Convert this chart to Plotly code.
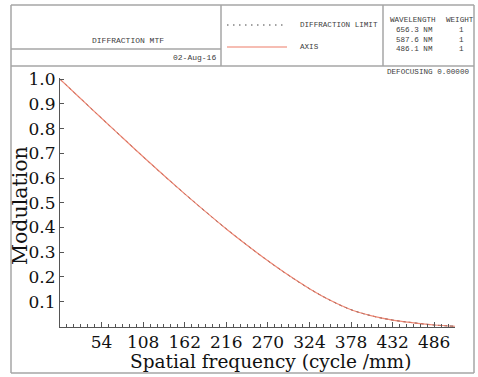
import plotly.graph_objects as go

# ---- data ----
freq = [0, 27, 54, 81, 108, 135, 162, 189, 216, 243, 270, 297, 324, 351,
        378, 405, 432, 459, 486, 513]
diffraction_limit = [1.000, 0.921, 0.842, 0.764, 0.686, 0.610, 0.536, 0.464,
                     0.394, 0.328, 0.265, 0.206, 0.152, 0.105, 0.067, 0.042,
                     0.025, 0.014, 0.005, 0.000]
axis_mtf = [1.000, 0.921, 0.842, 0.764, 0.686, 0.610, 0.536, 0.464,
            0.394, 0.328, 0.265, 0.206, 0.152, 0.105, 0.067, 0.042,
            0.025, 0.014, 0.005, 0.000]
x_ticks = [54, 108, 162, 216, 270, 324, 378, 432, 486]
y_ticks = [0.1, 0.2, 0.3, 0.4, 0.5, 0.6, 0.7, 0.8, 0.9, 1.0]
wavelengths = ["656.3 NM", "587.6 NM", "486.1 NM"]
weights = ["1", "1", "1"]

# ---- layout geometry (pixels) ----
W_IMG, H_IMG = 478, 377
L, R_PX, T, B = 60, 455, 78, 327
PW, PH = R_PX - L, B - T


def px(x):
    return (x - L) / PW


def py(y):
    return (B - y) / PH


RED = "#ee7d68"
FRAME = "#a6a6a6"
TXT = "#404040"
MONO = "Liberation Mono, Courier New, monospace"
SERIF = "DejaVu Serif, serif"

fig = go.Figure()
fig.add_trace(go.Scatter(x=freq, y=diffraction_limit, mode="lines",
                         line=dict(color="#222222", width=1, dash="dot", shape="spline"),
                         hoverinfo="skip", showlegend=False))
fig.add_trace(go.Scatter(x=freq, y=axis_mtf, mode="lines",
                         line=dict(color=RED, width=1.2, shape="spline"),
                         opacity=0.9, hoverinfo="skip", showlegend=False))

shapes = []


def hline(x0, x1, y, color=FRAME, width=1.5, dash=None):
    d = dict(type="line", xref="paper", yref="paper", x0=px(x0), x1=px(x1),
             y0=py(y), y1=py(y), line=dict(color=color, width=width))
    if dash:
        d["line"]["dash"] = dash
    shapes.append(d)


def vline(x, y0, y1, color=FRAME, width=1.5):
    shapes.append(dict(type="line", xref="paper", yref="paper", x0=px(x), x1=px(x),
                       y0=py(y0), y1=py(y1), line=dict(color=color, width=width)))


# outer frame
hline(11, 474, 5)
hline(11, 474, 373)
vline(11, 5, 373)
vline(474, 5, 373)
# header
hline(11, 474, 66)
hline(11, 221, 49)
vline(221, 5, 66)
vline(383, 5, 66)
# legend samples
hline(227, 286, 25, color="#444444", width=1, dash="1.5px,4.5px")
hline(227, 287, 47, color=RED, width=1.2)

annotations = []


def text(s, x, y, anchor="left", size=7.6, font=MONO, color=TXT, angle=0):
    annotations.append(dict(text=s, xref="paper", yref="paper", x=px(x), y=py(y),
                            xanchor=anchor, yanchor="middle", showarrow=False,
                            textangle=angle,
                            font=dict(family=font, size=size, color=color)))


text("DIFFRACTION MTF", 128, 41, anchor="center", size=8)
text("02-Aug-16", 218, 58, anchor="right", size=8)
text("DIFFRACTION LIMIT", 298, 25)
text("AXIS", 298, 47)
text("WAVELENGTH", 388, 20)
text("WEIGHT", 444, 20)
for i, (wl, wt) in enumerate(zip(wavelengths, weights)):
    text(wl, 394, 30 + 9.5 * i)
    text(wt, 461, 30 + 9.5 * i, anchor="center")
text("DEFOCUSING 0.00000", 471, 72, anchor="right")

# axis titles
text("Spatial frequency (cycle /mm)", 270, 361, anchor="center", size=18.5,
     font=SERIF, color="#111111")
text("Modulation", 20, 206, anchor="center", size=20.5, font=SERIF,
     color="#111111", angle=-90)

fig.update_layout(
    width=W_IMG, height=H_IMG, autosize=False,
    margin=dict(l=L, r=W_IMG - R_PX, t=T, b=H_IMG - B, pad=0),
    paper_bgcolor="white", plot_bgcolor="white",
    shapes=shapes, annotations=annotations, showlegend=False,
    xaxis=dict(range=[0, 513], tickvals=x_ticks, ticktext=[str(v) for v in x_ticks],
               ticks="inside", ticklen=5, tickcolor="#555555", tickwidth=1,
               showline=True, linecolor="#555555", linewidth=1,
               showgrid=False, zeroline=False, mirror=False,
               tickfont=dict(family=SERIF, size=17, color="#111111"),
               minor=dict(dtick=9, tick0=0, ticks="inside", ticklen=3,
                          tickcolor="#555555", showgrid=False)),
    yaxis=dict(range=[-0.003, 1.005], tickvals=y_ticks,
               ticktext=["%.1f" % v for v in y_ticks],
               ticks="inside", ticklen=4, tickcolor="#555555", tickwidth=1,
               showline=True, linecolor="#555555", linewidth=1,
               showgrid=False, zeroline=False,
               tickfont=dict(family=SERIF, size=17, color="#111111")),
)

fig.write_html("out.html",
               config={"displayModeBar": False, "staticPlot": True},
               post_script="document.body.style.margin='0px';"
                           "document.body.style.padding='0px';")
